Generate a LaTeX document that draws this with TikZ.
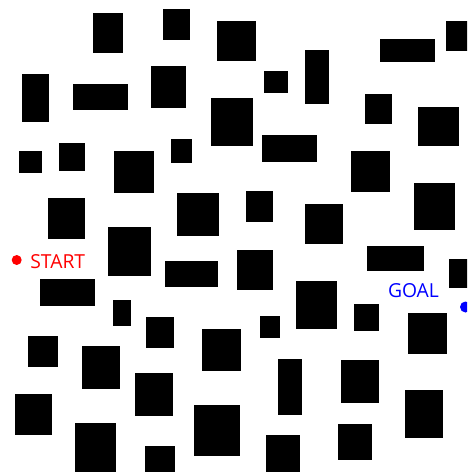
\documentclass[tikz,border=0pt]{standalone}
\usepackage{fontspec}
\setmainfont{Open Sans}
\begin{document}
\begin{tikzpicture}[x=1pt,y=-1pt,
  obst/.style={fill=black},
  lbl/.style={inner sep=0pt,anchor=base west,font=\fontsize{19.3}{22}\selectfont}]
\useasboundingbox (0,0) rectangle (467,472);
\clip (0,0) rectangle (467,472);
\foreach \a/\b/\c/\d in {
 93/13/123/53, 163/9/190/40, 217/21/256/61, 380/39/435/62, 446/21/468/51,
 22/74/49/122, 73/84/128/110, 151/66/186/108, 264/71/288/93, 305/50/329/104,
 365/94/392/124, 418/107/459/146,
 19/151/42/173, 59/143/85/171, 114/151/154/193, 171/139/192/163, 211/98/253/146,
 262/135/317/162, 351/151/390/192,
 48/198/85/239, 177/193/219/236, 246/191/273/222, 305/204/343/244, 414/183/455/230,
 108/227/151/276, 165/261/218/287, 237/250/273/290, 367/246/424/271, 449/259/468/288,
 40/279/95/306, 113/300/131/326, 296/281/337/329, 354/304/379/331,
 28/336/58/367, 82/346/120/389, 146/317/174/348, 202/329/241/371, 260/316/280/338,
 408/313/447/354,
 135/373/173/416, 278/359/302/415, 341/360/379/403, 15/394/52/435, 405/390/443/438,
 75/423/116/473, 145/446/175/473, 194/405/240/456, 266/435/300/473, 338/424/372/460}
 {\fill[obst] (\a,\b) rectangle (\c,\d);}
\fill[red] (16.7,260) circle (5);
\node[lbl,text=red] (start) at (30.2,268.3) {START};
\fill[blue] (465.5,307) circle (5.5);
\node[lbl,text=blue] (goal) at (387.8,297.2) {GOAL};
\end{tikzpicture}
\end{document}
